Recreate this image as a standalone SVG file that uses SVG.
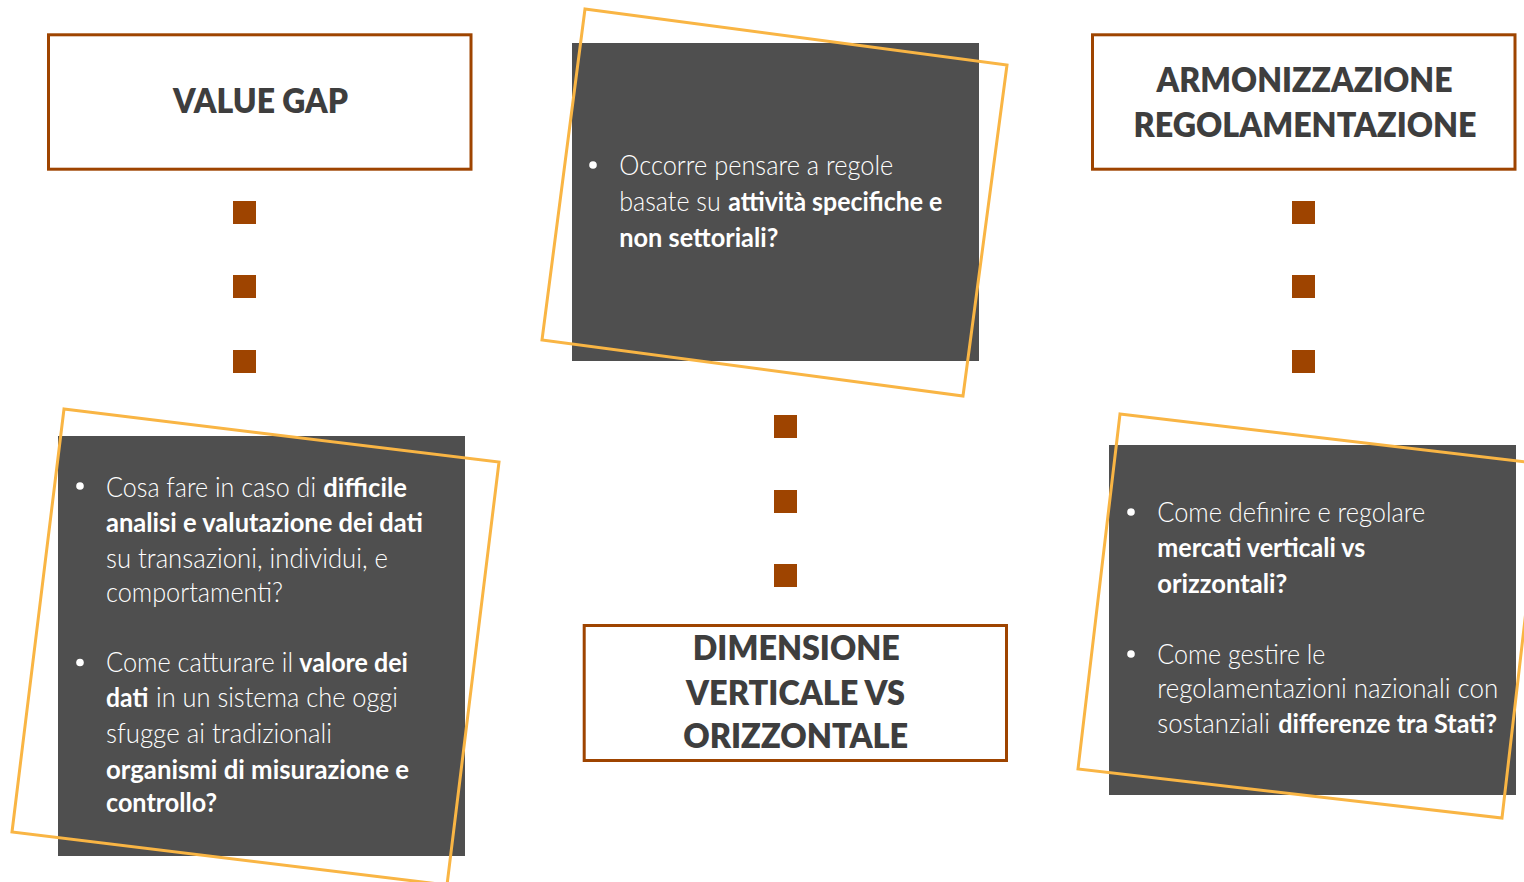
<svg xmlns="http://www.w3.org/2000/svg" width="1524" height="882" viewBox="0 0 1524 882">
<defs>
<style>
.hbox{fill:#FFFFFF;stroke:#9E4400;stroke-width:3}
.head{font-family:Lato,"Liberation Sans",sans-serif;font-weight:800;font-size:34px;fill:#3E3E3E;text-anchor:middle}
.card{fill:#4F4F4F}
.frame{fill:none;stroke:#F9B544;stroke-width:3}
.body{font-family:Lato,"Liberation Sans",sans-serif;font-weight:300;font-size:27px;fill:#FFFFFF}
.b{font-weight:700}
.bul{fill:#FFFFFF}
.dot{fill:#9E4400}
</style>
</defs>
<rect width="1524" height="882" fill="#FFFFFF"/>

<g id="value-gap">
<rect class="hbox" x="48.5" y="34.8" width="422.5" height="134.4"/>
<text class="head" x="260.5" y="113" textLength="175" lengthAdjust="spacingAndGlyphs">VALUE GAP</text>
</g>

<g id="armonizzazione">
<rect class="hbox" x="1092.5" y="34.8" width="422.5" height="134.4"/>
<text class="head" x="1304.5" y="92.3" textLength="296" lengthAdjust="spacingAndGlyphs">ARMONIZZAZIONE</text>
<text class="head" x="1305" y="136.7" textLength="343" lengthAdjust="spacingAndGlyphs">REGOLAMENTAZIONE</text>
</g>

<g id="dimensione">
<rect class="hbox" x="584.2" y="625.5" width="422.3" height="135"/>
<text class="head" x="796.3" y="660" textLength="207" lengthAdjust="spacingAndGlyphs">DIMENSIONE</text>
<text class="head" x="795.5" y="705" textLength="219" lengthAdjust="spacingAndGlyphs">VERTICALE VS</text>
<text class="head" x="795.7" y="748.3" textLength="225" lengthAdjust="spacingAndGlyphs">ORIZZONTALE</text>
</g>

<g id="connectors">
<rect class="dot" x="233" y="201" width="23" height="23"/>
<rect class="dot" x="233" y="275" width="23" height="23"/>
<rect class="dot" x="233" y="350" width="23" height="23"/>
<rect class="dot" x="1292" y="201" width="23" height="23"/>
<rect class="dot" x="1292" y="275" width="23" height="23"/>
<rect class="dot" x="1292" y="350" width="23" height="23"/>
<rect class="dot" x="774" y="415" width="23" height="23"/>
<rect class="dot" x="774" y="490" width="23" height="23"/>
<rect class="dot" x="774" y="564" width="23" height="23"/>
</g>

<g id="card-left">
<rect class="card" x="58" y="436" width="407" height="420"/>
<polygon class="frame" points="64,409 499,462 447,885 12,832"/>
<circle class="bul" cx="80" cy="486" r="3.8"/>
<text class="body" x="106" y="497" textLength="210" lengthAdjust="spacingAndGlyphs">Cosa fare in caso di</text>
<text class="body b" x="323.3" y="497" textLength="83.7" lengthAdjust="spacingAndGlyphs">difficile</text>
<text class="body b" x="106" y="532" textLength="317" lengthAdjust="spacingAndGlyphs">analisi e valutazione dei dati</text>
<text class="body" x="106" y="568" textLength="282" lengthAdjust="spacingAndGlyphs">su transazioni, individui, e</text>
<text class="body" x="106" y="602" textLength="177" lengthAdjust="spacingAndGlyphs">comportamenti?</text>
<circle class="bul" cx="80" cy="662.5" r="3.8"/>
<text class="body" x="106" y="672" textLength="187" lengthAdjust="spacingAndGlyphs">Come catturare il</text>
<text class="body b" x="299.3" y="672" textLength="108.7" lengthAdjust="spacingAndGlyphs">valore dei</text>
<text class="body b" x="106" y="707" textLength="42.3" lengthAdjust="spacingAndGlyphs">dati</text>
<text class="body" x="156" y="707" textLength="242" lengthAdjust="spacingAndGlyphs">in un sistema che oggi</text>
<text class="body" x="106" y="743" textLength="226" lengthAdjust="spacingAndGlyphs">sfugge ai tradizionali</text>
<text class="body b" x="106" y="779" textLength="303" lengthAdjust="spacingAndGlyphs">organismi di misurazione e</text>
<text class="body b" x="106" y="812" textLength="111" lengthAdjust="spacingAndGlyphs">controllo?</text>
</g>

<g id="card-center">
<rect class="card" x="572" y="43" width="407" height="318"/>
<polygon class="frame" points="585,9 1007,65 963,396 542,340"/>
<circle class="bul" cx="593" cy="165" r="3.8"/>
<text class="body" x="619.3" y="175" textLength="274" lengthAdjust="spacingAndGlyphs">Occorre pensare a regole</text>
<text class="body" x="619.3" y="210.7" textLength="101.4" lengthAdjust="spacingAndGlyphs">basate su</text>
<text class="body b" x="728.3" y="210.7" textLength="214" lengthAdjust="spacingAndGlyphs">attività specifiche e</text>
<text class="body b" x="619.3" y="246.7" textLength="159" lengthAdjust="spacingAndGlyphs">non settoriali?</text>
</g>

<g id="card-right">
<rect class="card" x="1109" y="445" width="407" height="350"/>
<polygon class="frame" points="1120,414 1543,464 1502,818 1078,769"/>
<circle class="bul" cx="1131" cy="512" r="3.8"/>
<text class="body" x="1157.3" y="521.7" textLength="268" lengthAdjust="spacingAndGlyphs">Come definire e regolare</text>
<text class="body b" x="1157.3" y="556.7" textLength="208" lengthAdjust="spacingAndGlyphs">mercati verticali vs</text>
<text class="body b" x="1157.3" y="593.3" textLength="130" lengthAdjust="spacingAndGlyphs">orizzontali?</text>
<circle class="bul" cx="1131" cy="654" r="3.8"/>
<text class="body" x="1157.3" y="664" textLength="168" lengthAdjust="spacingAndGlyphs">Come gestire le</text>
<text class="body" x="1157.3" y="698.3" textLength="341" lengthAdjust="spacingAndGlyphs">regolamentazioni nazionali con</text>
<text class="body" x="1157.3" y="733.3" textLength="112.7" lengthAdjust="spacingAndGlyphs">sostanziali</text>
<text class="body b" x="1278.3" y="733.3" textLength="218.7" lengthAdjust="spacingAndGlyphs">differenze tra Stati?</text>
</g>
</svg>
